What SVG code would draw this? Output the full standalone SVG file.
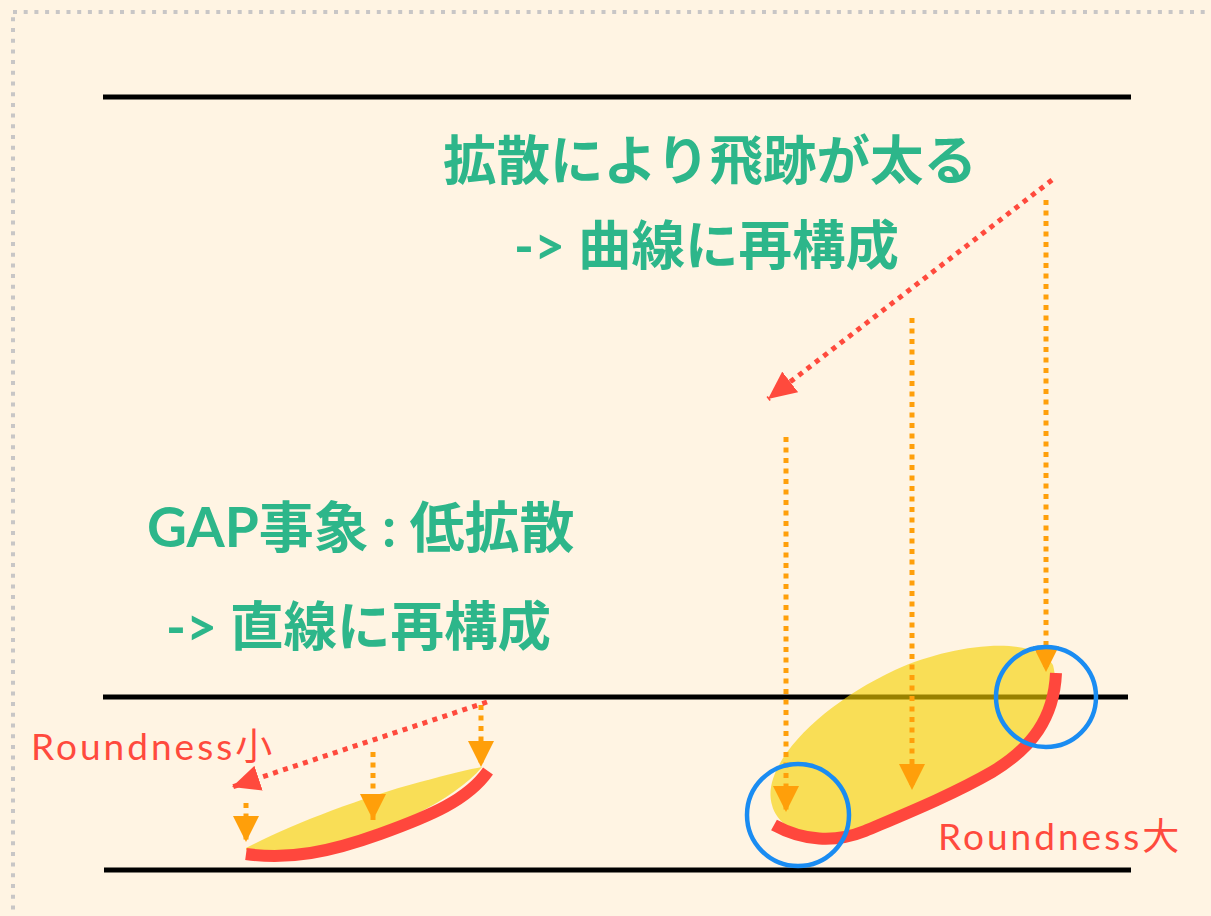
<svg xmlns="http://www.w3.org/2000/svg" width="1211" height="916" viewBox="0 0 1211 916">
<defs>
<style>
.hl{stroke:#000;stroke-width:5;fill:none}
.green{fill:#2db68a;font-family:"Lato","Noto Sans CJK JP",sans-serif;font-weight:bold;font-size:53.5px}
.redtxt{fill:#ff4a3d;font-family:"Lato","Noto Sans CJK JP",sans-serif;font-size:37px;letter-spacing:3px}
.oarr{stroke:#ff9f0a;stroke-width:5;stroke-dasharray:5 5.5;fill:none;marker-end:url(#oh)}
.rarr{stroke:#ff4a3d;stroke-width:5;stroke-dasharray:5 5.5;fill:none;marker-end:url(#rh)}
.blob{fill:#f5d000;fill-opacity:0.62}
.track{stroke:#ff473d;stroke-width:12;fill:none}
.ring{stroke:#1a8cf2;stroke-width:4.5;fill:none}
</style>
<marker id="oh" markerUnits="userSpaceOnUse" markerWidth="27" markerHeight="26" refX="26" refY="13" orient="auto" viewBox="0 0 27 26">
<path d="M0,0 L26,13 L0,26 Z" fill="#ff9f0a"/>
</marker>
<marker id="rh" markerUnits="userSpaceOnUse" markerWidth="29" markerHeight="26" refX="28" refY="13" orient="auto" viewBox="0 0 29 26">
<path d="M0,0 L28,13 L0,26 Z" fill="#ff4a3d"/>
</marker>
</defs>
<rect x="0" y="0" width="1211" height="916" fill="#fff4e3"/>
<rect x="13" y="12" width="1220" height="930" fill="none" stroke="#c8c6c6" stroke-width="4" stroke-dasharray="4 6.7"/>
<g id="lines">
<line class="hl" x1="103" y1="97" x2="1131" y2="97"/>
<line class="hl" x1="103" y1="697" x2="1128" y2="697"/>
<line class="hl" x1="104" y1="870" x2="1131" y2="870"/>
</g>
<g id="label-right">
<text class="green" x="443" y="180">拡散により飛跡が太る</text>
<text class="green" x="514" y="265">-&gt; 曲線に再構成</text>
</g>
<g id="label-left">
<text class="green" x="147" y="547" style="font-size:55px">GAP事象 : 低拡散</text>
<text class="green" x="166" y="646">-&gt; 直線に再構成</text>
</g>
<g id="track-small">
<path class="blob" d="M246,848 C290,825 360,798 420,782 C450,774 470,769 482,767 C455,800 385,832 330,848 C300,855 270,854 246,850 Z"/>
<path class="track" d="M246,854 C290,860 330,852 380,834 C430,816 468,800 488,771"/>
</g>
<g id="track-large">
<path class="blob" d="M772,805 C760,765 820,705 895,670 C955,643 1035,635 1053,665 C1062,700 1040,740 1005,765 C965,790 920,808 880,826 C860,835 845,839 835,839 C795,838 776,822 772,805 Z"/>
<path class="track" d="M1056,673 C1054,718 1032,748 992,772 C952,795 905,814 865,831 C835,843 803,841 774,825"/>
</g>
<g id="label-small"><text class="redtxt" x="31" y="760">Roundness小</text></g>
<g id="label-large"><text class="redtxt" x="938" y="850">Roundness大</text></g>
<g id="connectors">
<line class="oarr" x1="786" y1="437" x2="786" y2="812"/>
<line class="oarr" x1="912" y1="318" x2="912" y2="790"/>
<line class="oarr" x1="1046" y1="200" x2="1046" y2="672"/>
<line class="rarr" x1="1052" y1="180" x2="768" y2="399"/>
<line class="oarr" x1="246" y1="803" x2="246" y2="842"/>
<line class="oarr" x1="373" y1="752" x2="373" y2="820"/>
<line class="oarr" x1="481" y1="705" x2="481" y2="767"/>
<line class="rarr" x1="487" y1="702" x2="232" y2="787"/>
</g>
<g id="rings">
<circle class="ring" cx="798" cy="815" r="51"/>
<circle class="ring" cx="1046" cy="697" r="50"/>
</g>
</svg>
